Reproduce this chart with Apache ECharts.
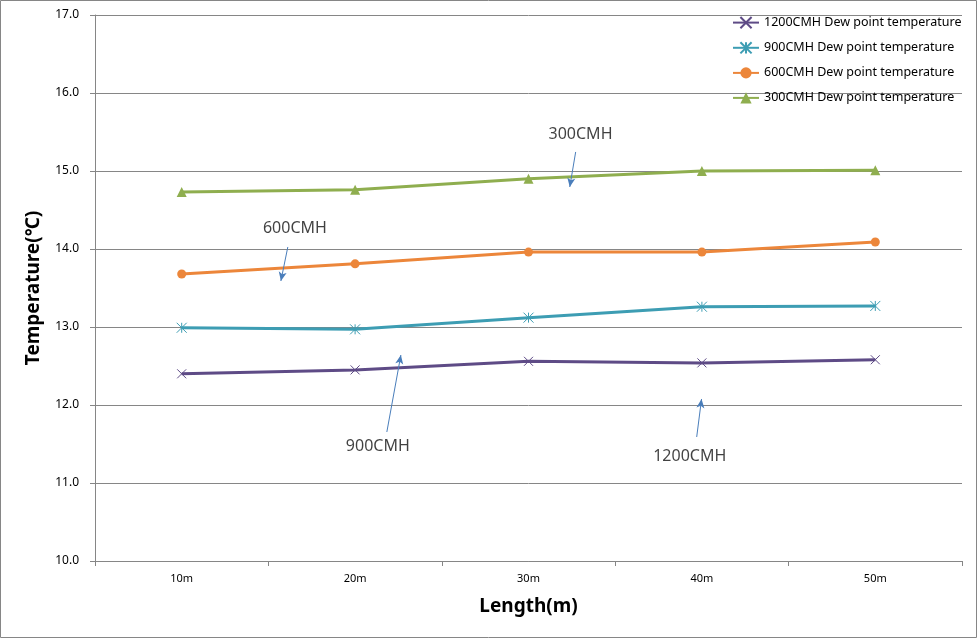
<!DOCTYPE html>
<html><head><meta charset="utf-8">
<script src="https://cdn.jsdelivr.net/npm/echarts@6/dist/echarts.min.js"></script>
<style>html,body{margin:0;padding:0;background:#fff}#c{width:978px;height:639px}</style>
</head><body><div id="c"></div>
<script>
const categories = ['10m', '20m', '30m', '40m', '50m'];
const names = ['1200CMH Dew point temperature', '900CMH Dew point temperature', '600CMH Dew point temperature', '300CMH Dew point temperature'];
const s1200 = [12.40, 12.45, 12.56, 12.54, 12.58];
const s900 = [12.99, 12.97, 13.12, 13.26, 13.27];
const s600 = [13.68, 13.81, 13.96, 13.96, 14.09];
const s300 = [14.73, 14.76, 14.90, 15.00, 15.01];
const yMin = 10, yMax = 17, yStep = 1;
// annotations (x in category-position units 1..5, y in temperature)
const annText = ['300CMH', '600CMH', '900CMH', '1200CMH'];
const annLabelX = [3.30, 1.653, 2.131, 3.93];
const annLabelY = [15.474, 14.27, 11.474, 11.346];
const annFromX = [3.272, 1.612, 2.183, 3.97];
const annFromY = [15.244, 14.026, 11.654, 11.59];
const annToX = [3.238, 1.572, 2.264, 3.998];
const annToY = [14.795, 13.59, 12.641, 12.077];

const colors = ['#5E4B86', '#3D9DB3', '#EC863A', '#8FAE4F'];
const symbols = [
  'path://M0,0L10,10M10,0L0,10',
  'path://M0,0L10,10M10,0L0,10M5,0L5,10',
  'circle',
  'triangle'
];
const sizes = [9, 10, 9, 10];
const seriesData = [s1200, s900, s600, s300];
const font = 'Noto Sans';

const chart = echarts.init(document.getElementById('c'));
const series = seriesData.map((d, i) => ({
  name: names[i], type: 'line', data: d,
  symbol: symbols[i], symbolSize: sizes[i], showSymbol: true,
  lineStyle: { color: colors[i], width: 3 },
  itemStyle: { color: colors[i], borderColor: colors[i], borderWidth: i < 2 ? 1 : 0 },
  z: 3
}));
series.push({
  type: 'scatter', xAxisIndex: 1, yAxisIndex: 0, symbolSize: 0, silent: true,
  data: annText.map((t, i) => ({ name: t, value: [annLabelX[i], annLabelY[i]] })),
  label: { show: true, position: 'inside', formatter: '{b}', color: '#111', fontFamily: font, fontSize: 16 },
  markLine: {
    silent: true, symbol: ['none', 'arrow'], symbolSize: [6, 9],
    lineStyle: { color: '#4A7EBB', width: 1, type: 'solid' },
    label: { show: false },
    data: annText.map((t, i) => [{ coord: [annFromX[i], annFromY[i]] }, { coord: [annToX[i], annToY[i]] }])
  }
});

chart.setOption({
  animation: false,
  backgroundColor: '#fff',
  grid: { left: 95, right: 16, top: 15, bottom: 78 },
  legend: {
    data: names, orient: 'vertical', left: 727, top: 11, itemGap: 12, itemWidth: 26, itemHeight: 14,
    textStyle: { fontFamily: font, fontSize: 12.5, color: '#000' }
  },
  xAxis: [{
    type: 'category', data: categories, boundaryGap: true,
    name: 'Length(m)', nameLocation: 'middle', nameGap: 36,
    nameTextStyle: { fontFamily: font, fontSize: 19, fontWeight: 'bold', color: '#000' },
    axisLine: { lineStyle: { color: '#868686' } },
    axisTick: { show: true, length: 5, lineStyle: { color: '#868686' } },
    axisLabel: { fontFamily: font, fontSize: 11, color: '#000', margin: 12 },
    splitLine: { show: false }
  }, {
    type: 'value', min: 0.5, max: 5.5, show: false
  }],
  yAxis: {
    type: 'value', min: yMin, max: yMax, interval: yStep,
    name: 'Temperature(℃)', nameLocation: 'middle', nameGap: 52,
    nameTextStyle: { fontFamily: font, fontSize: 19, fontWeight: 'bold', color: '#000' },
    axisLine: { show: true, lineStyle: { color: '#868686' } },
    axisTick: { show: true, length: 5, lineStyle: { color: '#868686' } },
    axisLabel: { fontFamily: font, fontSize: 12, color: '#000', margin: 16, formatter: v => v.toFixed(1) },
    splitLine: { show: true, lineStyle: { color: '#868686' } }
  },
  graphic: [{ type: 'rect', shape: { x: 0.5, y: 0.5, width: 976, height: 637 }, style: { fill: 'none', stroke: '#868686', lineWidth: 1 }, silent: true }],
  series: series
});
</script></body></html>
